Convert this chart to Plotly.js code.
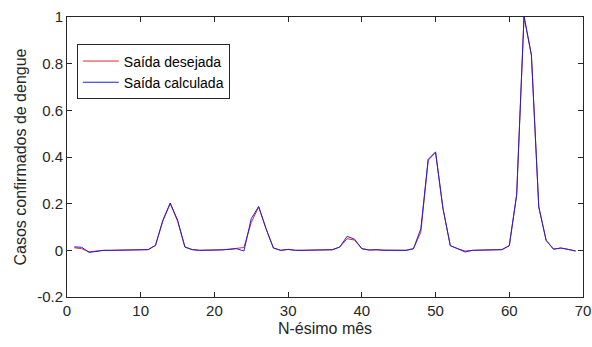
<!DOCTYPE html>
<html>
<head>
<meta charset="utf-8">
<script src="https://cdn.plot.ly/plotly-3.0.1.min.js"></script>
<style>html,body{margin:0;padding:0;background:#fff;}#chart{width:592px;height:347px;}</style>
</head>
<body>
<div id="chart"></div>
<script>
var months = [];
for (var i = 1; i <= 69; i++) months.push(i);

var desejada = [0.011,0.007,-0.006,-0.002,0,0,0,0,0,0.001,0.003,0.021,0.125,0.2,0.125,0.014,0.003,0,0,0,0.002,0.005,0.008,0.012,0.12,0.186,0.093,0.01,0,0.004,0,0,0,0,0,0.002,0.014,0.05,0.044,0.007,0.002,0.002,0,0,0,0,0.007,0.078,0.386,0.419,0.18,0.02,0.007,-0.003,0,0,0,0,0.003,0.02,0.24,1.0,0.837,0.186,0.043,0.005,0.01,0.004,-0.003];
var calculada = [0.015,0.013,-0.009,-0.003,0,0,0,0,0,0.001,0.003,0.021,0.129,0.203,0.13,0.014,0.003,0,0,0,0.002,0.004,0.007,-0.003,0.136,0.188,0.093,0.01,0,0.004,0,0,0,0,0,0.003,0.014,0.06,0.048,0.007,0.001,0.003,0,0,0,0,0.007,0.093,0.39,0.422,0.18,0.02,0.007,-0.007,0,0,0,0,0.003,0.02,0.236,1.005,0.837,0.186,0.043,0.005,0.01,0.004,-0.003];

var yTickVals = [-0.2,0,0.2,0.4,0.6,0.8,1];
var yTickText = ["-0.2","0","0.2","0.4","0.6","0.8","1"];
var xTickVals = [0,10,20,30,40,50,60,70];

var axisColor = "#262626";
var fam = "Liberation Sans, Arial, sans-serif";

var traces = [
  {x: months, y: desejada, type: "scatter", mode: "lines", name: "Saída desejada",
   line: {color: "#e02a2a", width: 1}},
  {x: months, y: calculada, type: "scatter", mode: "lines", name: "Saída calculada",
   line: {color: "#1f1fd8", width: 1}}
];

var layout = {
  width: 592, height: 347,
  margin: {l: 67, r: 9, t: 17, b: 50},
  paper_bgcolor: "#fff", plot_bgcolor: "#fff",
  font: {family: fam, size: 15, color: axisColor},
  showlegend: true,
  legend: {x: 0.019, y: 0.902, xanchor: "left", yanchor: "top",
    bgcolor: "#fff", bordercolor: axisColor, borderwidth: 1,
    font: {family: fam, size: 14, color: "#000"},
    tracegroupgap: 0, itemwidth: 36},
  xaxis: {range: [0, 70], tickvals: xTickVals, ticks: "inside", ticklen: 5,
    tickcolor: axisColor, showline: true, linecolor: axisColor, linewidth: 1,
    mirror: "ticks", showgrid: false, zeroline: false,
    tickfont: {family: fam, size: 15, color: axisColor},
    title: {text: "N-ésimo mês", font: {family: fam, size: 16, color: axisColor}, standoff: 4}},
  yaxis: {range: [-0.2, 1], tickvals: yTickVals, ticktext: yTickText, ticks: "inside", ticklen: 5,
    tickcolor: axisColor, showline: true, linecolor: axisColor, linewidth: 1,
    mirror: "ticks", showgrid: false, zeroline: false,
    tickfont: {family: fam, size: 15, color: axisColor},
    title: {text: "Casos confirmados de dengue", font: {family: fam, size: 16, color: axisColor}, standoff: 6}}
};

Plotly.newPlot("chart", traces, layout, {displayModeBar: false, staticPlot: true});
</script>
</body>
</html>
